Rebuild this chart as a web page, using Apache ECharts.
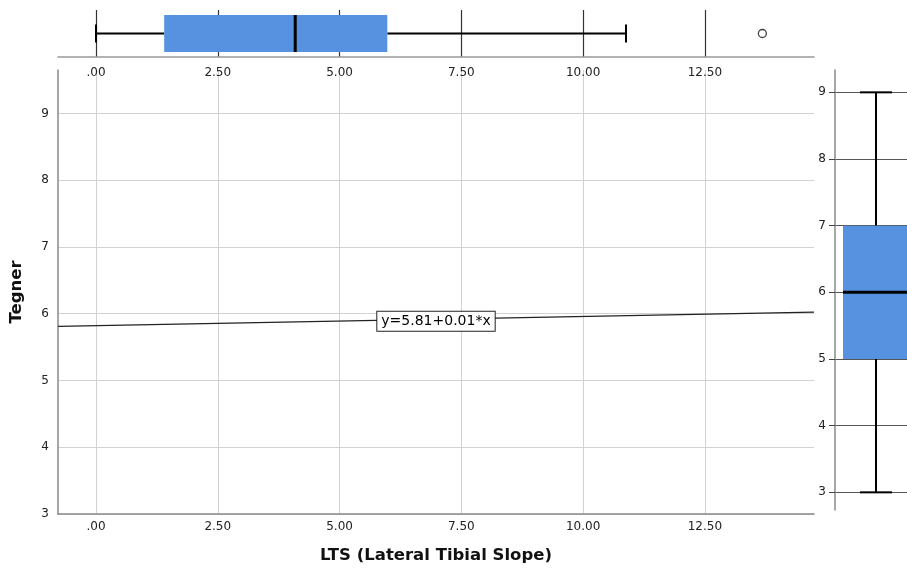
<!DOCTYPE html>
<html lang="en">
<head>
<meta charset="UTF-8">
<title>Tegner vs LTS</title>
<script src="https://cdn.jsdelivr.net/npm/echarts@6/dist/echarts.min.js"></script>
<style>
    html, body { margin: 0; padding: 0; background: #fff; }
    #main { width: 907px; height: 574px; }
</style>
</head>
<body>
<div id="main"></div>
<script>
    // tick values
    var xTicks = [0, 2.5, 5, 7.5, 10, 12.5];
    var yTicks = [3, 4, 5, 6, 7, 8, 9];

    // LTS box plot: low whisker, q1, median, q3, high whisker
    var ltsBox = [0, 1.40, 4.09, 5.98, 10.88];
    var ltsOutliers = [13.68];

    // Tegner box plot
    var tegnerBox = [3, 5, 6, 7, 9];

    // fit line (ends of the drawn line)
    var fitX = [-0.78, 14.74];
    var fitY = [5.81, 6.025];
    var fitText = 'y=5.81+0.01*x';

    var font = '"DejaVu Sans", sans-serif';
    var fmt = function (v) { return v.toFixed(2).replace(/^0\./, '.'); };

    // draws a box with half-width whisker caps
    function boxRenderer(horizontal, boxW, capW) {
        return function (params, api) {
            var cat = api.value(5);
            var pt = function (v) { return horizontal ? api.coord([v, cat]) : api.coord([cat, v]); };
            var lo = pt(api.value(0)), q1 = pt(api.value(1)), md = pt(api.value(2)),
                q3 = pt(api.value(3)), hi = pt(api.value(4));
            var cross = function (p, half) {
                return horizontal
                    ? {x1: p[0], y1: p[1] - half, x2: p[0], y2: p[1] + half}
                    : {x1: p[0] - half, y1: p[1], x2: p[0] + half, y2: p[1]};
            };
            var blk = {stroke: '#000', lineWidth: 2};
            var rect = horizontal
                ? {x: q1[0], y: q1[1] - boxW / 2, width: q3[0] - q1[0], height: boxW}
                : {x: q3[0] - boxW / 2, y: q3[1], width: boxW, height: q1[1] - q3[1]};
            return {
                type: 'group',
                children: [
                    {type: 'line', shape: {x1: lo[0], y1: lo[1], x2: q1[0], y2: q1[1]}, style: blk},
                    {type: 'line', shape: {x1: q3[0], y1: q3[1], x2: hi[0], y2: hi[1]}, style: blk},
                    {type: 'line', shape: cross(lo, capW / 2), style: blk},
                    {type: 'line', shape: cross(hi, capW / 2), style: blk},
                    {type: 'rect', shape: rect, style: {fill: '#5692e0'}},
                    {type: 'line', shape: cross(md, boxW / 2), style: {stroke: '#000', lineWidth: 3}}
                ]
            };
        };
    }

    var fitData = fitX.map(function (x, i) { return [x, fitY[i]]; });
    var labelAt = [(fitX[0] + fitX[1]) / 2, (fitY[0] + fitY[1]) / 2];

    var myChart = echarts.init(document.getElementById('main'));
    myChart.setOption({
        animation: false,
        backgroundColor: '#fff',
        textStyle: {fontFamily: font},
        grid: [
            {left: 58, top: 70, width: 756, height: 444, containLabel: false, outerBoundsMode: 'none'},
            {left: 58, top: 10, width: 756, height: 47, containLabel: false, outerBoundsMode: 'none'},
            {left: 835, top: 70, width: 82, height: 440, containLabel: false, outerBoundsMode: 'none'}
        ],
        xAxis: [
            {
                gridIndex: 0, type: 'value', min: -0.78, max: 14.74,
                name: 'LTS (Lateral Tibial Slope)', nameLocation: 'middle', nameGap: 33,
                nameTextStyle: {fontSize: 16.5, fontWeight: 'bold', color: '#111', fontFamily: font},
                axisLine: {show: true, onZero: false, lineStyle: {color: '#8a8a8a', width: 1.5}},
                axisTick: {show: false, customValues: xTicks},
                axisLabel: {customValues: xTicks, formatter: fmt, color: '#222', fontSize: 12, margin: 7},
                splitLine: {show: true, lineStyle: {color: '#d2d2d2', width: 1}}
            },
            {
                gridIndex: 1, type: 'value', min: -0.78, max: 14.74,
                axisLine: {show: true, onZero: false, lineStyle: {color: '#9a9a9a', width: 1.5}},
                axisTick: {show: false, customValues: xTicks},
                axisLabel: {customValues: xTicks, formatter: fmt, color: '#222', fontSize: 12, margin: 10},
                splitLine: {show: true, lineStyle: {color: '#333', width: 1.2}}
            },
            {
                gridIndex: 2, type: 'category', data: ['Tegner'], show: false
            }
        ],
        yAxis: [
            {
                gridIndex: 0, type: 'value', min: 3, max: 9.65,
                name: 'Tegner', nameLocation: 'middle', nameGap: 33, nameRotate: 90,
                nameTextStyle: {fontSize: 16.5, fontWeight: 'bold', color: '#111', fontFamily: font},
                axisLine: {show: true, onZero: false, lineStyle: {color: '#8a8a8a', width: 1.5}},
                axisTick: {show: false, customValues: yTicks},
                axisLabel: {customValues: yTicks, color: '#222', fontSize: 12, margin: 9},
                splitLine: {show: true, lineStyle: {color: '#d2d2d2', width: 1}}
            },
            {
                gridIndex: 1, type: 'category', data: ['LTS'], show: false
            },
            {
                gridIndex: 2, type: 'value', min: 2.735, max: 9.335,
                axisLine: {show: true, onZero: false, lineStyle: {color: '#8a8a8a', width: 1.5}},
                axisTick: {show: true, length: 6, customValues: yTicks, lineStyle: {color: '#444'}},
                axisLabel: {customValues: yTicks, color: '#222', fontSize: 12, margin: 9},
                splitLine: {show: true, lineStyle: {color: '#555', width: 1.2}}
            }
        ],
        series: [
            {
                type: 'line', xAxisIndex: 0, yAxisIndex: 0, z: 2,
                data: fitData, symbol: 'none', silent: true,
                lineStyle: {color: '#222', width: 1.3}
            },
            {
                type: 'scatter', xAxisIndex: 0, yAxisIndex: 0, z: 10, silent: true,
                data: [labelAt], symbolSize: 1, itemStyle: {color: 'transparent'},
                label: {
                    show: true, position: 'inside', offset: [0, 2], formatter: fitText,
                    color: '#000', fontSize: 14, fontFamily: font, opacity: 1,
                    backgroundColor: '#fff', borderColor: '#222', borderWidth: 1,
                    padding: [3, 4, 2, 4]
                }
            },
            {
                type: 'custom', xAxisIndex: 1, yAxisIndex: 1,
                renderItem: boxRenderer(true, 37, 18),
                encode: {x: [0, 1, 2, 3, 4], y: 5},
                data: [ltsBox.concat([0])]
            },
            {
                type: 'scatter', xAxisIndex: 1, yAxisIndex: 1,
                data: ltsOutliers.map(function (v) { return [v, 0]; }),
                symbol: 'circle', symbolSize: 8,
                itemStyle: {color: '#fff', borderColor: '#111', borderWidth: 1.3}
            },
            {
                type: 'custom', xAxisIndex: 2, yAxisIndex: 2,
                renderItem: boxRenderer(false, 66, 32),
                encode: {x: 5, y: [0, 1, 2, 3, 4]},
                data: [tegnerBox.concat([0])]
            }
        ]
    });
</script>
</body>
</html>
